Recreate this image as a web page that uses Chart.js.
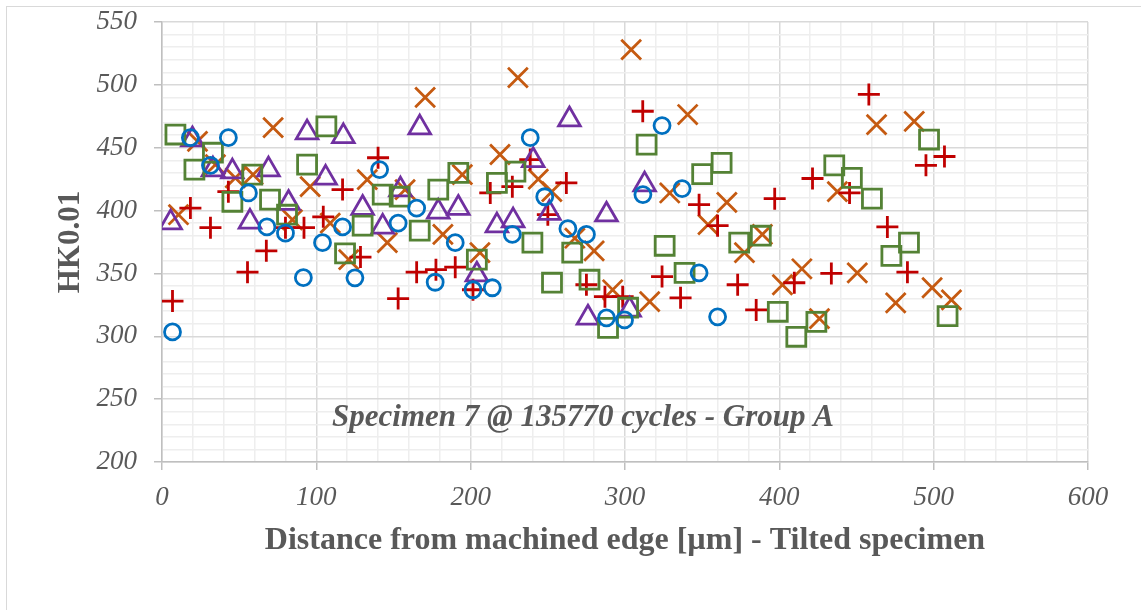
<!DOCTYPE html>
<html>
<head>
<meta charset="utf-8">
<script src="https://cdn.jsdelivr.net/npm/chart.js@4/dist/chart.umd.min.js"></script>
<style>
  body { margin: 0; background: #fff; overflow: hidden; }
  #frame { position: absolute; left: 6px; top: 6px; width: 1134px; height: 620px; border: 1px solid #d9d9d9; }
  #wrap { position: absolute; left: 0; top: 0; width: 1141px; height: 610px; }
</style>
</head>
<body>
<div id="frame"></div>
<div id="wrap"><canvas id="chart" width="1141" height="610"></canvas></div>
<script>
// values: [distance, hardness]
const circleX = [6.8, 18.4, 31.4, 43, 56, 68, 80, 91.6, 104, 117, 125, 141, 153, 165, 177, 190, 201.5, 214, 227, 238.6, 248, 263, 275, 288, 299.7, 311.6, 324, 337, 348, 360];
const circleY = [303.5, 458, 436, 458, 414, 387, 382, 346.6, 374.5, 387, 346.5, 432.6, 390, 402, 343, 374.5, 337, 338.6, 381, 458, 411, 385.6, 381, 314.7, 313, 412.7, 467.6, 417.5, 350.5, 315.5];

const squareX = [8.7, 21, 33, 45.6, 58.5, 70, 81, 94, 106.5, 118.6, 130, 143, 154, 167, 179, 192, 204, 217, 229, 240, 252.7, 265.8, 277, 289, 302, 314, 325.7, 338.6, 350, 362.6, 374, 388, 399, 411, 424, 435.6, 447, 460, 472.6, 484, 497, 509];
const squareY = [460.5, 432.6, 446, 407, 428.6, 408.7, 396.7, 436.6, 467, 366, 388, 412.7, 411, 384, 416.7, 430, 361, 422, 431, 374.5, 342.6, 366.5, 345, 306.7, 322.7, 452.5, 372, 350.5, 429, 438, 374.5, 380, 319.5, 299.6, 311.5, 436, 426, 409.5, 364, 374.5, 456.5, 316];

const triangleX = [5.6, 19.7, 33, 45.6, 57, 69, 82, 94, 106, 117.5, 130, 143, 154.5, 167, 179, 192, 204, 217, 227.5, 240.5, 251, 264, 276, 288, 303, 312.7];
const triangleY = [390.4, 456.5, 432.6, 431, 391, 432.6, 406, 462, 426, 459, 402, 387, 416.7, 466, 399, 402, 349, 388, 392, 440, 398, 472.4, 314.7, 396.7, 321, 420.6];

const plusX = [6.8, 18.4, 31.4, 43, 55.4, 67.6, 80, 92, 104.5, 117, 128.6, 140, 153, 165, 177.5, 190, 201.5, 212.7, 227, 238.6, 250, 262, 275, 287, 298.5, 311.5, 324, 336, 348, 360, 373, 385, 397, 409.7, 421.5, 433.7, 445.5, 458, 470, 483, 495, 507];
const plusY = [328, 402, 386.4, 415, 351, 368, 386.4, 386.4, 395, 416.7, 363, 442, 330, 351, 353, 355, 337, 414, 419, 440.6, 396.7, 422, 341, 331.5, 331.5, 479, 347.5, 330.6, 404.7, 388, 341, 321, 409.5, 342.6, 425.5, 350, 414, 492.4, 387, 351, 436, 443];

const crossX = [10.7, 23, 34.6, 47.5, 59, 72, 84.5, 96, 109, 121, 133, 146, 157.5, 170.5, 182, 194.6, 206, 219, 230.6, 243.8, 252.6, 267.5, 280, 292, 304, 316, 329, 340.6, 353.8, 366, 377.4, 389, 402, 414.6, 426, 437.6, 450.5, 463, 475.4, 487.4, 499, 511.5];
const crossY = [396.7, 455, 436.6, 426, 428.6, 466, 392.7, 419, 390, 361, 424.6, 374.5, 416.7, 490, 381, 428.6, 366.5, 444.6, 505.8, 425, 415, 378, 368, 337, 528, 327.5, 414, 476.4, 388.8, 406.5, 366.5, 381, 341, 353.7, 314, 415, 350.5, 468.4, 326.6, 471, 338.6, 329];

const xTitle = "Distance from machined edge [µm] - Tilted specimen";
const yTitle = "HK0.01";
const note = "Specimen 7 @ 135770 cycles - Group A";

const pts = (xs, ys) => xs.map((x, i) => ({ x: x, y: ys[i] }));

const serif = "'Liberation Serif', 'Times New Roman', serif";
const grey = "#595959";

const notePlugin = {
  id: "note",
  afterDatasetsDraw(chart) {
    const ctx = chart.ctx;
    ctx.save();
    ctx.font = "italic bold 31px " + serif;
    ctx.fillStyle = grey;
    ctx.textAlign = "center";
    ctx.textBaseline = "middle";
    ctx.fillText(note, 583, 418);
    ctx.restore();
  }
};

function series(label, data, style, color, radius) {
  return {
    label: label,
    data: data,
    showLine: false,
    pointStyle: style,
    pointRadius: radius,
    pointHoverRadius: radius,
    pointBorderColor: color,
    pointBackgroundColor: "rgba(0,0,0,0)",
    pointBorderWidth: 2.8,
    borderColor: color
  };
}

const majorGrid = "#d9d9d9";
const minorGrid = "#eeeeee";

new Chart(document.getElementById("chart"), {
  type: "scatter",
  data: {
    datasets: [
      series("circles", pts(circleX, circleY), "circle", "#0070C0", 8),
      series("squares", pts(squareX, squareY), "rect", "#548235", 13.4),
      series("triangles", pts(triangleX, triangleY), "triangle", "#7030A0", 12.5),
      series("plus", pts(plusX, plusY), "cross", "#C00000", 11),
      series("cross", pts(crossX, crossY), "crossRot", "#C55A11", 14)
    ]
  },
  options: {
    responsive: false,
    animation: false,
    layout: { padding: { top: 22, right: 53, bottom: 0, left: 0 } },
    plugins: { legend: { display: false }, tooltip: { enabled: false } },
    scales: {
      x: {
        type: "linear",
        min: 0,
        max: 600,
        afterFit: (s) => { s.height = 148; s.paddingLeft = 0; s.paddingRight = 0; },
        border: { color: "#bfbfbf", width: 1.5 },
        grid: {
          color: (c) => (c.tick.value % 100 === 0 ? majorGrid : minorGrid),
          lineWidth: 1.5,
          tickLength: 8,
          tickColor: (c) => (c.tick.value % 100 === 0 ? "#bfbfbf" : "rgba(0,0,0,0)")
        },
        ticks: {
          stepSize: 20,
          autoSkip: false,
          maxRotation: 0,
          padding: 12,
          color: grey,
          font: { family: serif, size: 27, style: "italic" },
          callback: (v) => (v % 100 === 0 ? String(v) : "")
        },
        title: {
          display: true,
          text: xTitle,
          color: grey,
          font: { family: serif, size: 32, weight: "bold" },
          padding: { top: 0, bottom: 50 }
        }
      },
      y: {
        type: "linear",
        min: 200,
        max: 550,
        afterFit: (s) => { s.width = 162; s.paddingTop = 0; s.paddingBottom = 0; },
        border: { color: "#bfbfbf", width: 1.5 },
        grid: {
          color: (c) => (c.tick.value % 50 === 0 ? majorGrid : minorGrid),
          lineWidth: 1.5,
          tickLength: 8,
          tickColor: (c) => (c.tick.value % 50 === 0 ? "#bfbfbf" : "rgba(0,0,0,0)")
        },
        ticks: {
          stepSize: 10,
          autoSkip: false,
          padding: 17,
          color: grey,
          font: { family: serif, size: 27, style: "italic" },
          callback: (v) => (v % 50 === 0 ? String(v) : "")
        },
        title: {
          display: true,
          text: yTitle,
          color: grey,
          font: { family: serif, size: 31, weight: "bold" },
          padding: { top: 52, bottom: 0 }
        }
      }
    }
  },
  plugins: [notePlugin]
});
</script>
</body>
</html>
